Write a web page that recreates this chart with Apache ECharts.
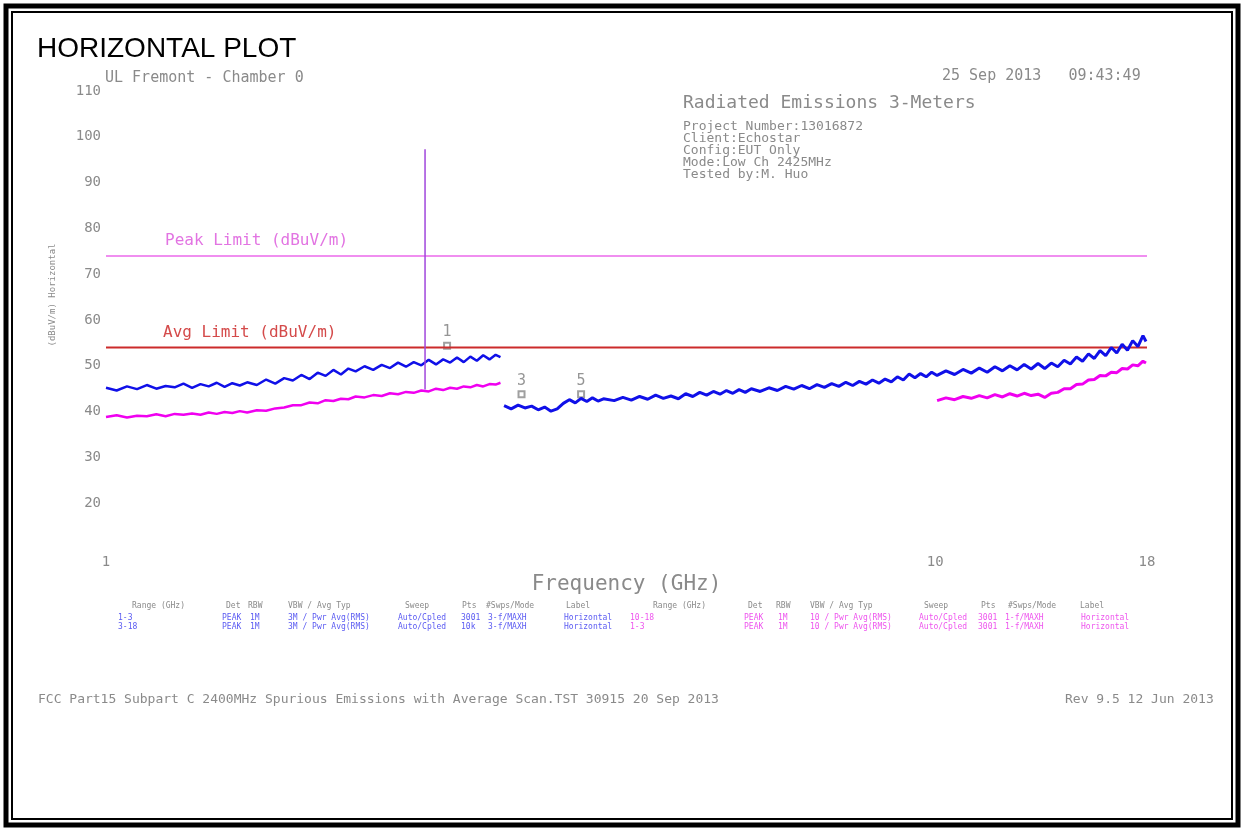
<!DOCTYPE html>
<html>
<head>
<meta charset="utf-8">
<title>Horizontal Plot</title>
<script src="https://cdn.jsdelivr.net/npm/echarts@6/dist/echarts.min.js"></script>
<style>
  html, body { margin: 0; padding: 0; background: #fff; }
  #chart { width: 1244px; height: 831px; }
</style>
</head>
<body>
<div id="chart"></div>
<script>
// levels in dBuV/m, frequencies in GHz (log axis 1..18)
const xLabels = [1, 10, 18]
const peakLimit = 74
const avgLimit = 54
const carrierFreq = 2.425
const carrierLevels = [44.8, 97.3]

// 1-3 GHz scan
const freqLow = [
  1.00, 1.03, 1.06, 1.09, 1.12, 1.15, 1.18, 1.21, 1.24, 1.27,
  1.30, 1.33, 1.36, 1.39, 1.42, 1.45, 1.48, 1.52, 1.56, 1.60,
  1.64, 1.68, 1.72, 1.76, 1.80, 1.84, 1.88, 1.92, 1.96, 2.00,
  2.05, 2.10, 2.15, 2.20, 2.25, 2.30, 2.35, 2.40, 2.45, 2.50,
  2.55, 2.60, 2.65, 2.70, 2.75, 2.80, 2.85, 2.90, 2.95, 2.99
]
const peakLow = [
  45.2, 44.6, 45.5, 44.9, 45.8, 45.0, 45.6, 45.3, 46.1, 45.2,
  46.0, 45.5, 46.3, 45.4, 46.2, 45.7, 46.4, 45.8, 47.0, 46.1,
  47.3, 46.8, 48.0, 47.1, 48.5, 47.8, 49.1, 48.1, 49.4, 48.8,
  49.9, 49.1, 50.2, 49.5, 50.7, 49.8, 50.8, 50.1, 51.3, 50.3,
  51.4, 50.7, 51.8, 50.8, 52.0, 51.1, 52.3, 51.4, 52.4, 51.9
]
const avgLow = [
  38.8, 39.2, 38.7, 39.1, 39.0, 39.4, 39.0, 39.5, 39.3, 39.6,
  39.3, 39.8, 39.5, 39.9, 39.7, 40.1, 39.8, 40.3, 40.2, 40.7,
  40.9, 41.4, 41.4, 42.0, 41.8, 42.5, 42.3, 42.8, 42.7, 43.3,
  43.1, 43.6, 43.4, 44.0, 43.8, 44.3, 44.1, 44.6, 44.4, 45.0,
  44.7, 45.2, 45.0, 45.5, 45.3, 45.8, 45.5, 46.0, 45.9, 46.3
]

// 3-18 GHz scan (peak)
const freqHigh = [
  3.02, 3.08, 3.14, 3.20, 3.26, 3.32, 3.38, 3.44, 3.50, 3.56,
  3.62, 3.68, 3.74, 3.80, 3.86, 3.92, 3.98, 4.10, 4.20, 4.30,
  4.40, 4.50, 4.60, 4.70, 4.80, 4.90, 5.00, 5.10, 5.20, 5.30,
  5.40, 5.50, 5.60, 5.70, 5.80, 5.90, 6.00, 6.15, 6.30, 6.45,
  6.60, 6.75, 6.90, 7.05, 7.20, 7.35, 7.50, 7.65, 7.80, 7.95,
  8.10, 8.25, 8.40, 8.55, 8.70, 8.85, 9.00, 9.15, 9.30, 9.45,
  9.60, 9.75, 9.90, 10.05, 10.30, 10.55, 10.80, 11.05, 11.30, 11.55,
  11.80, 12.05, 12.30, 12.55, 12.80, 13.05, 13.30, 13.55, 13.80, 14.05,
  14.30, 14.55, 14.80, 15.05, 15.30, 15.55, 15.80, 16.05, 16.30, 16.55,
  16.80, 17.05, 17.30, 17.55, 17.80, 17.95
]
const peakHigh = [
  41.3, 40.6, 41.4, 40.8, 41.2, 40.4, 41.0, 40.1, 40.6, 41.8,
  42.6, 41.9, 42.9, 42.2, 43.0, 42.3, 42.8, 42.4, 43.1, 42.5,
  43.3, 42.7, 43.6, 42.9, 43.4, 42.8, 43.9, 43.3, 44.2, 43.6,
  44.4, 43.8, 44.6, 44.0, 44.8, 44.2, 45.0, 44.4, 45.2, 44.6,
  45.5, 44.9, 45.7, 45.0, 45.9, 45.3, 46.1, 45.5, 46.4, 45.7,
  46.6, 46.0, 46.9, 46.2, 47.1, 46.5, 47.6, 46.9, 48.2, 47.4,
  48.3, 47.6, 48.6, 47.9, 48.9, 48.1, 49.2, 48.4, 49.5, 48.6,
  49.8, 48.9, 50.0, 49.1, 50.3, 49.3, 50.5, 49.4, 50.6, 49.8,
  51.2, 50.4, 51.9, 51.0, 52.6, 51.6, 53.3, 52.2, 54.0, 52.8,
  54.7, 53.4, 55.5, 54.2, 56.6, 55.3
]

// 10-18 GHz scan (average)
const freqTop = [
  10.05, 10.30, 10.55, 10.80, 11.05, 11.30, 11.55, 11.80, 12.05, 12.30,
  12.55, 12.80, 13.05, 13.30, 13.55, 13.80, 14.05, 14.30, 14.55, 14.80,
  15.05, 15.30, 15.55, 15.80, 16.05, 16.30, 16.55, 16.80, 17.05, 17.30,
  17.55, 17.80, 17.95
]
const avgTop = [
  42.4, 43.0, 42.6, 43.3, 42.9, 43.5, 43.0, 43.7, 43.2, 43.9,
  43.4, 44.0, 43.5, 43.8, 43.1, 44.0, 44.2, 45.0, 45.0, 45.9,
  46.0, 46.9, 47.0, 47.9, 47.8, 48.6, 48.5, 49.4, 49.3, 50.2,
  50.0, 51.0, 50.6
]

const markerFreq = [2.578, 3.17, 3.74]
const markerLevel = [54.4, 43.8, 43.8]
const markerNames = ['1', '3', '5']

const infoLines = ['Project Number:13016872', 'Client:Echostar', 'Config:EUT Only', 'Mode:Low Ch 2425MHz', 'Tested by:M. Huo']
const tableCols = ['Range (GHz)', 'Det', 'RBW', 'VBW / Avg Typ', 'Sweep', 'Pts', '#Swps/Mode', 'Label']
const peakRows = [
  ['1-3', 'PEAK', '1M', '3M / Pwr Avg(RMS)', 'Auto/Cpled', '3001', '3-f/MAXH', 'Horizontal'],
  ['3-18', 'PEAK', '1M', '3M / Pwr Avg(RMS)', 'Auto/Cpled', '10k', '3-f/MAXH', 'Horizontal']
]
const avgRows = [
  ['10-18', 'PEAK', '1M', '10 / Pwr Avg(RMS)', 'Auto/Cpled', '3001', '1-f/MAXH', 'Horizontal'],
  ['1-3', 'PEAK', '1M', '10 / Pwr Avg(RMS)', 'Auto/Cpled', '3001', '1-f/MAXH', 'Horizontal']
]

const MONO = '"DejaVu Sans Mono", "Liberation Mono", monospace'
const GREY = '#8a8a8a'
const pairs = (xs, ys) => xs.map((x, i) => [x, ys[i]])

function txt(text, x, y, size, color, extra) {
  return {
    type: 'text', x, y, silent: true,
    style: Object.assign({ text, font: `${size}px ${MONO}`, fill: color, verticalAlign: 'middle' }, extra || {})
  }
}

const graphic = [
  { type: 'rect', shape: { x: 6, y: 6, width: 1232, height: 819 }, style: { fill: 'none', stroke: '#000', lineWidth: 5 }, silent: true },
  { type: 'rect', shape: { x: 12, y: 12, width: 1220, height: 807 }, style: { fill: 'none', stroke: '#000', lineWidth: 2 }, silent: true },
  txt('HORIZONTAL PLOT', 37, 49, 28, '#000', { font: '28px "Liberation Sans", Arial, sans-serif' }),
  txt('UL Fremont - Chamber 0', 105, 78, 15, GREY),
  txt('25 Sep 2013   09:43:49', 942, 76, 15, GREY),
  txt('Radiated Emissions 3-Meters', 683, 103, 18, GREY),
  txt('Peak Limit (dBuV/m)', 165, 241, 16, '#e274e2'),
  txt('Avg Limit (dBuV/m)', 163, 333, 16, '#d44a4a'),
  txt('(dBuV/m) Horizontal', 53, 295, 9, GREY, { align: 'center' }),
  txt('FCC Part15 Subpart C 2400MHz Spurious Emissions with Average Scan.TST 30915 20 Sep 2013', 38, 700, 13, GREY),
  txt('Rev 9.5 12 Jun 2013', 1065, 700, 13, GREY)
]
graphic[8].rotation = Math.PI / 2

infoLines.forEach((line, i) => graphic.push(txt(line, 683, 127 + i * 11.8, 13, GREY)))

const leftHeadX = [132, 226, 248, 288, 405, 462, 486, 566]
const leftRowX = [118, 222, 250, 288, 398, 461, 488, 564]
const rightHeadX = [653, 748, 776, 810, 924, 981, 1008, 1080]
const rightRowX = [630, 744, 778, 810, 919, 978, 1005, 1081]
tableCols.forEach((c, i) => {
  graphic.push(txt(c, leftHeadX[i], 606, 8, GREY))
  graphic.push(txt(c, rightHeadX[i], 606, 8, GREY))
})
peakRows.forEach((row, r) => row.forEach((c, i) => graphic.push(txt(c, leftRowX[i], 618 + r * 9, 8, '#5b5bf2'))))
avgRows.forEach((row, r) => row.forEach((c, i) => graphic.push(txt(c, rightRowX[i], 618 + r * 9, 8, '#ee55ee'))))

const traceLine = (name, data, color, width) => ({
  type: 'line', name, data, showSymbol: false, symbol: 'none', silent: true,
  lineStyle: { color, width }, animation: false
})

const option = {
  animation: false,
  grid: { left: 106, right: 97, top: 91, bottom: 282 },
  xAxis: {
    type: 'log', logBase: 10, min: 1, max: 18,
    axisLine: { show: false }, axisTick: { show: false }, splitLine: { show: false },
    axisLabel: { customValues: xLabels, margin: 6, color: GREY, fontSize: 14, fontFamily: MONO, showMaxLabel: true },
    name: 'Frequency (GHz)', nameLocation: 'middle', nameGap: 22,
    nameTextStyle: { color: GREY, fontSize: 21, fontFamily: MONO }
  },
  yAxis: {
    type: 'value', min: 10, max: 110, interval: 10,
    axisLine: { show: false }, axisTick: { show: false }, splitLine: { show: false },
    axisLabel: { margin: 5, color: GREY, fontSize: 14, fontFamily: MONO, formatter: (v) => (v === 10 ? '' : v) }
  },
  series: [
    traceLine('Peak Limit', [[1, peakLimit], [18, peakLimit]], '#f08ef0', 2),
    traceLine('Avg Limit', [[1, avgLimit], [18, avgLimit]], '#cc2b2b', 2),
    traceLine('Avg 1-3', pairs(freqLow, avgLow), '#f000f0', 2.5),
    traceLine('Avg 10-18', pairs(freqTop, avgTop), '#f000f0', 3),
    traceLine('Peak 1-3', pairs(freqLow, peakLow), '#1010e8', 2.5),
    traceLine('Peak 3-18', pairs(freqHigh, peakHigh), '#1010e8', 3),
    traceLine('Carrier', carrierLevels.map((v) => [carrierFreq, v]), '#a046dc', 1.5),
    {
      type: 'scatter', silent: true,
      symbol: 'emptyRect', symbolSize: 6,
      itemStyle: { color: '#888', borderColor: '#888', borderWidth: 1 },
      label: { show: true, position: 'top', distance: 2, formatter: (p) => p.name, color: '#7a7a7a', fontSize: 15, fontFamily: MONO },
      data: markerFreq.map((f, i) => ({ name: markerNames[i], value: [f, markerLevel[i]] }))
    }
  ],
  graphic
}

const chart = echarts.init(document.getElementById('chart'))
chart.setOption(option)
window.addEventListener('resize', () => chart.resize())
</script>
</body>
</html>
